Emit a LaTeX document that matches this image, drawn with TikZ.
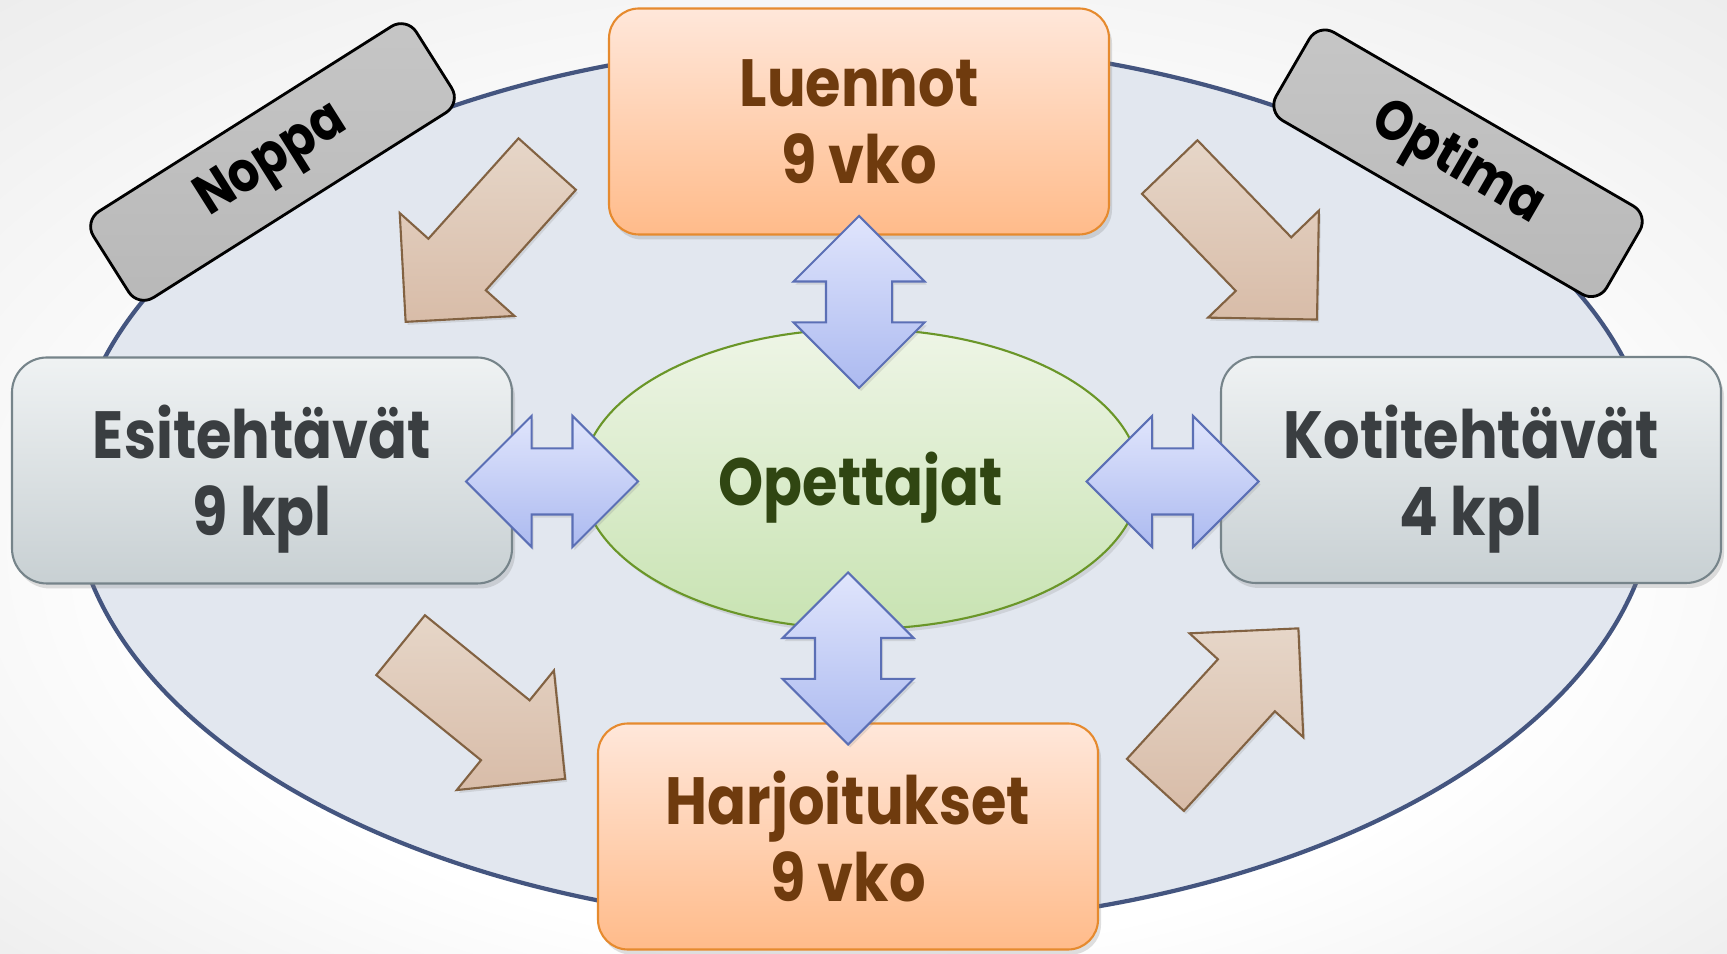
\documentclass[tikz,border=0pt]{standalone}
\usepackage{fontspec}
\setmainfont{Poppins}[FakeStretch=0.86]
\usetikzlibrary{shapes.geometric,shapes.arrows,shadows}
\definecolor{BgGray}{RGB}{233,233,233}
\definecolor{OvalFill}{RGB}{226,231,239}
\definecolor{OvalLine}{RGB}{68,85,127}
\definecolor{PeachTop}{RGB}{255,231,218}
\definecolor{PeachBottom}{RGB}{255,187,138}
\definecolor{PeachLine}{RGB}{230,138,46}
\definecolor{PeachText}{RGB}{111,59,14}
\definecolor{SlateTop}{RGB}{239,242,243}
\definecolor{SlateBottom}{RGB}{200,208,211}
\definecolor{SlateLine}{RGB}{118,132,138}
\definecolor{SlateText}{RGB}{58,62,65}
\definecolor{LeafTop}{RGB}{238,245,230}
\definecolor{LeafBottom}{RGB}{200,227,178}
\definecolor{LeafLine}{RGB}{106,150,40}
\definecolor{LeafText}{RGB}{48,70,18}
\definecolor{SkyLight}{RGB}{224,229,252}
\definecolor{SkyDark}{RGB}{172,186,240}
\definecolor{SkyLine}{RGB}{91,111,181}
\definecolor{ClayLight}{RGB}{230,214,200}
\definecolor{ClayDark}{RGB}{216,188,168}
\definecolor{ClayLine}{RGB}{130,98,66}
\definecolor{TagTop}{RGB}{198,198,198}
\definecolor{TagBottom}{RGB}{184,184,184}
\pgfdeclareradialshading{backdrop}{\pgfpoint{0cm}{-0.35cm}}{color(0cm)=(white); color(0.7cm)=(white); color(1.4cm)=(BgGray)}

\begin{document}
\begin{tikzpicture}
          \tikzstyle{Course}=[rectangle, rounded corners=0.3cm, minimum width=5cm, minimum height=2.26cm, align=center,
            font=\fontsize{19}{22}\selectfont\bfseries, text depth=0pt, line width=0.6pt,
            drop shadow={opacity=0.25,shadow xshift=0.03cm,shadow yshift=-0.05cm}]
          \tikzstyle{Lecture}=[Course, draw=PeachLine, top color=PeachTop, bottom color=PeachBottom, text=PeachText]
          \tikzstyle{Task}=[Course, rounded corners=0.35cm, draw=SlateLine, top color=SlateTop, bottom color=SlateBottom, text=SlateText]
          \tikzstyle{Tool}=[rectangle, rounded corners=0.18cm, minimum width=3.82cm, minimum height=1.02cm, draw=black,
            line width=0.8pt, top color=TagTop, bottom color=TagBottom, font=\fontsize{16}{18}\selectfont\bfseries]
          \tikzstyle{Flow}=[single arrow, anchor=tail, minimum height=2.12cm, inner sep=0pt, inner ysep=0.375cm,
            single arrow head extend=0.385cm, draw=ClayLine, line width=0.6pt, top color=ClayLight, bottom color=ClayDark,
            drop shadow={opacity=0.2,shadow xshift=0.02cm,shadow yshift=-0.03cm}]
          \tikzstyle{Link}=[double arrow, minimum height=1.72cm, inner sep=0pt, inner ysep=0.32cm,
            double arrow head extend=0.325cm, draw=SkyLine, line width=0.6pt, top color=SkyLight, bottom color=SkyDark,
            drop shadow={opacity=0.2,shadow xshift=0.02cm,shadow yshift=-0.03cm}]
          % backdrop
          \shade[shading=backdrop] (0,0) rectangle (17.27,9.53);
          \useasboundingbox (0,0) rectangle (17.27,9.53);
          \node[ellipse, draw=OvalLine, fill=OvalFill, line width=1.2pt, minimum width=15.84cm, minimum height=8.84cm] (kurssi) at (8.64,4.69) {};
          % tools
          \node[Tool, rotate=32.3] (noppa) at (2.725,7.91) {Noppa};
          \node[Tool, rotate=-30.1] (optima) at (14.58,7.897) {Optima};
          % flow arrows
          \node[Flow, rotate=228.1] (noppaflow) at (5.479,7.897) {};
          \node[Flow, rotate=-46] (optimaflow) at (11.69,7.867) {};
          \node[Flow, rotate=-39.1] (esiflow) at (3.998,3.085) {};
          \node[Flow, rotate=47.6] (harjflow) at (11.547,1.673) {};
          % centre
          \node[ellipse, draw=LeafLine, line width=0.6pt, top color=LeafTop, bottom color=LeafBottom, text=LeafText,
            minimum width=5.58cm, minimum height=3.0cm, font=\fontsize{19}{22}\selectfont\bfseries, text depth=0pt,
            drop shadow={opacity=0.2,shadow xshift=0.03cm,shadow yshift=-0.04cm}] (opettajat) at (8.61,4.74) {Opettajat};
          % boxes
          \node[Task] (esitehtavat) at (2.62,4.825) {Esitehtävät\\9 kpl};
          \node[Task] (kotitehtavat) at (14.71,4.83) {Kotitehtävät\\4 kpl};
          \node[Lecture] (luennot) at (8.59,8.315) {Luennot\\9 vko};
          \node[Lecture] (harjoitukset) at (8.48,1.165) {Harjoitukset\\9 vko};
          % double arrows
          \node[Link, rotate=90] (luelink) at (8.59,6.51) {};
          \node[Link, rotate=90] (harjlink) at (8.48,2.945) {};
          \node[Link] (esilink) at (5.52,4.715) {};
          \node[Link] (kotilink) at (11.725,4.715) {};
        \end{tikzpicture}
\end{document}
